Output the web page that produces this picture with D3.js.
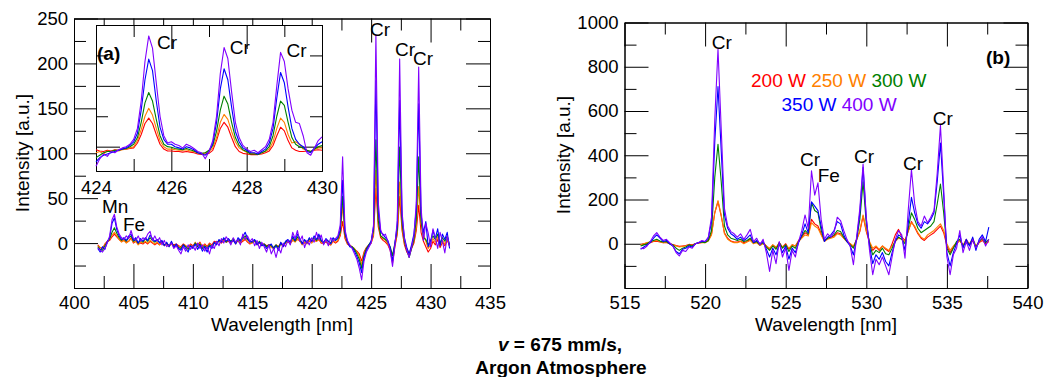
<!DOCTYPE html>
<html lang="en">
<head>
<meta charset="UTF-8">
<title>Emission spectra, v = 675 mm/s, Argon Atmosphere</title>
<script src="https://d3js.org/d3.v7.min.js"></script>
<style>
  body { margin: 0; background: #fff; }
  svg { display: block; }
</style>
</head>
<body>
<div id="chart"></div>
<script>
// laser power of each spectrum, same order as the colours
const powers = ["200 W", "250 W", "300 W", "350 W", "400 W"];
const colors = ["#ff0000", "#ff7f00", "#008000", "#0000ff", "#8000ff"];

// panel (a): sampled every 0.2 nm from 402.0 to 431.6 nm
const waveA = d3.range(149).map(i => +(402 + i * 0.2).toFixed(1));
const a200 = [-2,-5,-6,-1,2, 3,7,10,7,4, 2,3,1,2,6, 0,2,-1,0,-1, 1,-1,2,0,-2, 0,-2,1,-2,-1,
  -3,0,-2,-1,-3, -4,-1,-3,-5,-1, -3,0,-2,1,-4, -1,-4,0,-2,2, 1,2,0,3,1, 2,0,3,1,2,
  0,2,4,1,-1, 1,3,-1,0,-2, -1,-3,-2,-4,-5, -2,-4,0,-3,1, 1,0,3,2,4, 3,-1,0,1,2,
  1,3,2,4,0, 0,1,-1,-2,2, 0,2,8,24,5, -1,-3,-5,-7,-9, -12,-20,-10,-5,-2, 0,8,61,18,6,
  3,1,-2,-8,-22, -4,10,52,14,-2, -10,-14,-6,0,14, 42,12,2,-4,-10, -6,2,-2,4,-5, 1,-3,3,-2];
const a250 = [-3,-5,-6,-2,1, 4,9,12,8,4, 1,3,0,2,5, 1,2,-2,1,0, 2,0,3,1,-1, 1,-2,0,-3,-1,
  -4,-1,-3,-2,-4, -5,-2,-3,-6,-2, -4,1,-3,0,-5, -2,-5,-1,-3,1, 0,3,1,4,2, 3,1,4,-1,3,
  1,3,6,2,0, 0,2,-2,1,-3, -2,-4,-3,-5,-6, -3,-6,-1,-4,0, 2,-1,4,1,5, 2,-2,1,-1,3,
  0,4,2,5,1, -1,2,0,-2,3, 1,3,10,41,8, 0,-2,-4,-6,-10, -15,-24,-12,-6,-3, 0,10,81,22,8,
  5,3,-1,-6,-14, -2,12,68,18,0, -6,-12,-4,2,18, 63,22,10,2,-6, -2,5,1,7,-3, 3,-1,5,-4];
const a300 = [-4,-7,-8,-3,1, 5,12,17,11,6, 3,5,2,6,8, 2,4,0,3,1, 5,2,6,3,1, 3,1,2,-2,0,
  -3,1,-4,-2,-5, -6,-2,-4,-7,-3, -5,0,-4,-1,-6, -3,-6,-2,-4,0, -1,3,2,5,1, 4,2,5,0,4,
  2,5,8,4,2, 1,3,-1,2,-2, -1,-4,-2,-3,-5, -2,-5,0,-3,1, 3,1,6,2,7, 4,0,3,1,5,
  2,6,3,8,2, 1,4,2,0,5, 3,5,12,52,10, 1,-3,-4,-7,-12, -18,-28,-14,-6,-2, 2,14,115,25,8,
  6,4,1,-4,-14, 0,15,107,22,2, -8,-16,-6,4,26, 96,24,6,4,-2, 3,8,4,10,0, 6,2,8,-2];
const a350 = [-6,-10,-4,-7,2, 6,22,28,15,8, 4,6,3,8,10, 3,6,0,5,2, 6,3,9,5,2, 4,0,3,-3,1,
  -4,2,-5,-1,-6, -8,-2,-6,-10,-3, -6,-1,-7,-2,-9, -4,-10,-3,-6,1, -2,4,1,6,2, 5,1,3,-1,6,
  3,7,12,5,1, 2,4,-2,1,-3, -2,-6,-3,-1,-7, -3,-8,1,-4,2, 4,1,8,3,10, 5,-1,4,0,6,
  2,8,4,10,3, 0,5,2,-1,6, 3,6,15,70,12, 2,-4,-5,-9,-15, -22,-33,-16,-8,-3, 2,18,181,35,12,
  10,6,3,-5,-20, 0,20,159,30,6, -5,-12,-2,10,38, 155,32,12,24,-4, 2,14,5,16,-3, 10,4,12,-6];
const a400 = [-5,-8,-10,-6,0, 8,26,32,18,10, 6,4,8,5,14, 5,3,8,2,6, 4,10,13,3,8, 2,6,-2,3,-4,
  -2,0,-6,-3,-8, -12,-4,-9,-2,-7, -3,-8,0,-6,-2, -9,-4,-12,-2,-6, 2,-3,5,0,7, 3,-2,6,1,4,
  -2,10,4,8,2, 5,-3,3,-6,1, -4,-10,-2,-12,-6, -16,-5,-11,0,-4, 3,-2,12,5,14, 2,8,-5,3,-2,
  6,1,12,4,9, -2,4,-3,6,2, 5,8,20,96,15, 3,-2,-6,-12,-18, -28,-41,-20,-10,-5, 0,20,232,45,15,
  8,10,2,-8,-26, -2,25,205,35,5, -8,-16,-5,8,45, 196,40,3,22,11, -4,16,6,-6,12, 2,-11,8,-4];

// inset of panel (a): 424.0 to 430.0 nm, every 0.1 nm
const waveIn = d3.range(61).map(i => +(424 + i * 0.1).toFixed(1));
const in200 = [95,93,92,94,93,95,94,96,96,97, 98,106,120,138,147,138,120,104,96,93,
  93,92,92,91,92,91,90,88,87,88, 89,94,110,130,140,132,115,100,92,89,
  88,87,87,87,88,90,93,102,118,132, 126,110,98,94,92,92,93,92,94,95, 94];
const in250 = [90,92,88,93,92,94,93,95,96,98, 100,110,128,150,163,152,130,110,100,96,
  96,95,94,94,95,93,92,90,88,90, 92,98,115,140,153,145,125,108,98,94,
  91,89,89,88,90,92,96,108,130,147, 140,120,106,108,104,96,94,92,95,98, 98];
const in300 = [82,86,90,92,92,94,94,96,97,100, 104,115,140,172,189,175,145,118,104,100,
  99,97,96,95,97,95,93,90,89,90, 94,102,125,160,183,170,140,115,102,95,
  92,88,88,87,90,93,100,118,150,175, 168,140,115,104,100,98,94,92,96,100, 102];
const in350 = [75,82,86,88,90,92,94,96,98,102, 108,122,160,210,244,225,175,132,112,104,
  104,100,98,96,100,98,95,90,88,86, 92,105,140,195,228,210,165,125,108,98,
  94,90,90,88,92,96,106,130,180,222, 205,165,130,112,104,100,92,90,98,104, 108];
const in400 = [68,80,88,84,92,90,95,98,100,104, 112,130,175,240,282,262,205,150,118,106,
  108,104,102,98,104,101,97,92,90,80, 92,110,150,220,263,245,190,140,115,102,
  96,92,94,90,95,100,112,140,200,255, 240,195,160,140,138,118,90,86,98,110, 116];

// panel (b): sampled every 0.2 nm from 516.0 to 537.6 nm
const waveB = d3.range(109).map(i => +(516 + i * 0.2).toFixed(1));
const b200 = [-5,0,3,5,10,12,8,5,6,0, -3,-8,-12,-10,-8,-3,-5,0,3,6, 8,15,45,140,190,125,50,25,12,8,
  8,12,5,10,20,5,8,-5,5,-10, -25,-5,-20,5,-15,0,-25,-5,-10,15, 30,50,40,110,90,80,45,15,25,30,
  35,50,45,25,10,0,-15,20,55,125, 55,5,-30,-15,-30,-10,-25,-35,0,40, 65,30,15,55,100,75,45,25,15,30,
  40,50,65,80,50,-10,-40,-15,0,15, -10,20,-5,15,-15,5,15,0,10];
const b250 = [-5,0,5,8,12,15,10,5,8,0, -5,-10,-15,-12,-10,-5,-8,0,3,5, 5,12,40,140,195,130,45,20,10,5,
  5,10,0,8,15,0,5,-8,0,-10, -20,-5,-15,0,-15,-5,-20,-5,-10,10, 25,40,35,95,80,70,40,10,20,25,
  30,45,40,25,10,0,-10,15,60,130, 60,10,-20,-10,-25,-10,-20,-30,-10,10, 25,20,10,60,95,80,50,30,20,40,
  50,60,75,90,60,0,-30,-10,5,15, -5,15,0,25,-10,10,20,5,15];
const b300 = [-10,-5,0,10,15,20,12,8,10,0, -5,-20,-30,-20,-15,-5,-10,0,5,8, 5,15,60,300,450,280,80,40,25,20,
  15,20,10,15,25,5,10,-5,5,-15, -30,-10,-25,5,-20,-5,-35,-10,-20,10, 35,60,45,185,150,140,60,15,25,30,
  40,60,55,30,10,-5,-20,20,110,280, 90,0,-50,-30,-40,-20,-45,-50,-20,15, 30,20,0,70,140,110,70,50,60,70,
  80,100,180,270,140,-20,-50,-20,10,20, -10,10,-5,20,-15,10,25,5,20];
const b350 = [-25,-15,-5,5,25,40,25,10,15,0, -10,-35,-45,-25,-20,-10,-15,0,5,10, 10,25,100,460,710,420,130,70,45,35,
  20,30,15,25,40,5,15,0,10,-25, -60,-20,-50,0,-40,-10,-70,-20,-40,5, 40,90,50,190,170,150,80,10,30,40,
  60,100,90,40,10,-10,-50,20,140,345, 110,-10,-90,-50,-70,-40,-80,-100,-40,10, 40,30,-30,90,210,140,90,70,100,90,
  110,140,280,455,220,-40,-100,-40,0,40, -20,20,-10,30,-30,20,40,10,75];
const b400 = [-20,-22,-10,10,35,50,30,15,20,5, -10,-40,-55,-30,-35,-15,-20,0,5,15, 10,30,120,560,880,520,160,80,55,45,
  30,45,20,40,65,10,25,-5,20,-40, -125,-30,-90,10,-60,-20,-120,-30,-60,10, 60,130,70,330,220,275,110,20,45,30,
  50,120,105,60,20,-10,-95,30,160,360, 120,-30,-140,-70,-95,-60,-100,-140,-60,20, 60,40,-65,150,335,180,100,80,125,95,
  120,150,320,535,250,-60,-140,-50,-20,60, -40,10,-30,20,-20,10,30,-10,20];

// axis ticks
const ticksAx = [400, 405, 410, 415, 420, 425, 430, 435];
const minorAx = [402.5, 407.5, 412.5, 417.5, 422.5, 427.5, 432.5];
const ticksAy = [-50, 0, 50, 100, 150, 200, 250];
const minorAy = [-25, 25, 75, 125, 175, 225];
const ticksInx = [424, 426, 428, 430];
const minorInx = [425, 427, 429];
const ticksIny = [100, 200, 300];
const minorIny = [150, 250];
const ticksBx = [515, 520, 525, 530, 535, 540];
const minorBx = [517.5, 522.5, 527.5, 532.5, 537.5];
const ticksBy = [-200, 0, 200, 400, 600, 800, 1000];
const minorBy = [-100, 100, 300, 500, 700, 900];

// peak labels: [text, wavelength, intensity] at the label's left baseline
const peaksA = [["Cr", 424.9, 231], ["Cr", 427.0, 208], ["Cr", 428.52, 198], ["Mn", 402.36, 33], ["Fe", 404.12, 13]];
const peaksIn = [["Cr", 425.62, 261], ["Cr", 427.55, 253], ["Cr", 429.06, 248]];
const peaksB = [["Cr", 520.41, 882], ["Cr", 525.89, 351], ["Fe", 526.99, 277], ["Cr", 529.24, 363], ["Cr", 532.28, 333], ["Cr", 534.12, 536]];

const font = '"Liberation Sans", Arial, Helvetica, sans-serif';
const fs = 19;     // labels and titles
const tfs = 18.5;  // tick numbers

const svg = d3.select("#chart").append("svg")
  .attr("width", 1064).attr("height", 377)
  .attr("font-family", font);

// draws a closed frame with inward ticks on all four sides
function frame(g, x, y, o) {
  const [xl, xr] = x.range();
  const [yb, yt] = y.range();
  const num = d => (o.hideBelow !== undefined && d < o.hideBelow) ? "" : d;
  const add = (axis, tr) => g.append("g").attr("transform", tr).call(axis)
    .attr("font-size", tfs).attr("font-family", font)
    .call(s => s.select(".domain").attr("stroke", "#000"))
    .call(s => s.selectAll(".tick line").attr("stroke", "#000"))
    .call(s => s.selectAll(".tick text").attr("fill", "#000"));

  add(d3.axisBottom(x).tickValues(o.xMinor).tickSize(-12).tickSizeOuter(0).tickFormat(""), `translate(0,${yb})`);
  add(d3.axisTop(x).tickValues(o.xMinor).tickSize(-12).tickSizeOuter(0).tickFormat(""), `translate(0,${yt})`);
  add(d3.axisLeft(y).tickValues(o.yMinor).tickSize(-12).tickSizeOuter(0).tickFormat(""), `translate(${xl},0)`);
  add(d3.axisRight(y).tickValues(o.yMinor).tickSize(-12).tickSizeOuter(0).tickFormat(""), `translate(${xr},0)`);

  add(d3.axisBottom(x).tickValues(o.xMajor).tickSize(-24).tickSizeOuter(0).tickPadding(o.xPad)
    .tickFormat(o.xLabels ? d => d : ""), `translate(0,${yb})`);
  add(d3.axisTop(x).tickValues(o.xMajor).tickSize(-24).tickSizeOuter(0).tickFormat(""), `translate(0,${yt})`);
  add(d3.axisLeft(y).tickValues(o.yMajor).tickSize(-24).tickSizeOuter(0).tickPadding(6)
    .tickFormat(o.yLabels ? num : ""), `translate(${xl},0)`);
  add(d3.axisRight(y).tickValues(o.yMajor).tickSize(-24).tickSizeOuter(0).tickFormat(""), `translate(${xr},0)`);
}

function spectra(g, x, y, wave, series) {
  const line = d3.line().x((d, i) => x(wave[i])).y(d => y(d));
  g.selectAll("path.spec").data(series).join("path")
    .attr("class", "spec")
    .attr("d", line)
    .attr("fill", "none")
    .attr("stroke", (d, i) => colors[i])
    .attr("stroke-width", 1.1)
    .attr("stroke-linejoin", "round");
}

function labels(g, x, y, list) {
  g.selectAll("text.peak").data(list).join("text")
    .attr("class", "peak")
    .attr("x", d => x(d[1])).attr("y", d => y(d[2]))
    .attr("font-size", fs).attr("fill", "#000")
    .text(d => d[0]);
}

// ---- panel (a)
const xA = d3.scaleLinear().domain([400, 435]).range([74, 490]);
const yA = d3.scaleLinear().domain([-50, 250]).range([288, 18.5]);
const gA = svg.append("g");
frame(gA, xA, yA, { xMajor: ticksAx, xMinor: minorAx, yMajor: ticksAy, yMinor: minorAy,
  xLabels: true, yLabels: true, xPad: 8, hideBelow: 0 });
spectra(gA.append("g"), xA, yA, waveA, [a200, a250, a300, a350, a400]);
labels(gA.append("g"), xA, yA, peaksA);

gA.append("text").attr("x", 282).attr("y", 331).attr("text-anchor", "middle")
  .attr("font-size", fs).text("Wavelength [nm]");
gA.append("text").attr("transform", "translate(28.5,153) rotate(-90)").attr("text-anchor", "middle")
  .attr("font-size", fs).text("Intensity [a.u.]");

// ---- inset
const xIn = d3.scaleLinear().domain([424, 430]).range([96, 322]);
const yIn = d3.scaleLinear().domain([60, 300]).range([171, 25]);
const gIn = svg.append("g");
gIn.append("rect").attr("x", 96).attr("y", 25).attr("width", 226).attr("height", 146).attr("fill", "#fff");
frame(gIn, xIn, yIn, { xMajor: ticksInx, xMinor: minorInx, yMajor: ticksIny, yMinor: minorIny,
  xLabels: true, yLabels: false, xPad: 10 });
spectra(gIn.append("g"), xIn, yIn, waveIn, [in200, in250, in300, in350, in400]);
labels(gIn.append("g"), xIn, yIn, peaksIn);
gIn.append("text").attr("x", 97).attr("y", 60).attr("font-size", fs).attr("font-weight", "bold").text("(a)");

// ---- panel (b)
const xB = d3.scaleLinear().domain([515, 540]).range([624.5, 1027.5]);
const yB = d3.scaleLinear().domain([-200, 1000]).range([288, 22.5]);
const gB = svg.append("g");
frame(gB, xB, yB, { xMajor: ticksBx, xMinor: minorBx, yMajor: ticksBy, yMinor: minorBy,
  xLabels: true, yLabels: true, xPad: 8, hideBelow: 0 });
spectra(gB.append("g"), xB, yB, waveB, [b200, b250, b300, b350, b400]);
labels(gB.append("g"), xB, yB, peaksB);
gB.append("text").attr("x", 986).attr("y", 63.5).attr("font-size", fs).attr("font-weight", "bold").text("(b)");

gB.append("text").attr("x", 826).attr("y", 331).attr("text-anchor", "middle")
  .attr("font-size", fs).text("Wavelength [nm]");
gB.append("text").attr("transform", "translate(570,155) rotate(-90)").attr("text-anchor", "middle")
  .attr("font-size", fs).text("Intensity [a.u.]");

// legend, two rows
const rows = [[0, 1, 2], [3, 4]];
const legend = gB.append("g").attr("font-size", fs);
legend.selectAll("text").data(rows).join("text")
  .attr("x", (d, i) => i === 0 ? 751 : 781.5)
  .attr("y", (d, i) => i === 0 ? 87 : 110.5)
  .selectAll("tspan").data(d => d).join("tspan")
  .attr("fill", k => colors[k])
  .text((k, j) => (j ? " " : "") + powers[k]);

// caption
const cap = svg.append("g").attr("font-size", fs).attr("font-weight", "bold").attr("text-anchor", "middle");
const c1 = cap.append("text").attr("x", 560).attr("y", 351);
c1.append("tspan").attr("font-style", "italic").text("v");
c1.append("tspan").text(" = 675 mm/s,");
cap.append("text").attr("x", 561).attr("y", 374).text("Argon Atmosphere");
</script>
</body>
</html>
